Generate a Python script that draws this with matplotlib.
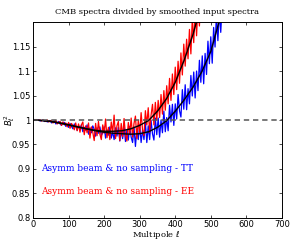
import numpy as np
import matplotlib
matplotlib.use("Agg")
import matplotlib.pyplot as plt

# Noisy measured ratios (multipole step of 4)
tt_ratio = [
    1.000, 1.001, 0.999, 1.000, 1.000, 0.998, 0.999, 1.000, 0.997, 0.999,
    0.996, 0.997, 0.999, 0.994, 0.997, 0.998, 0.992, 0.994, 0.997, 0.992,
    0.989, 0.995, 0.995, 0.987, 0.992, 0.985, 0.993, 0.987, 0.982, 0.992,
    0.988, 0.979, 0.989, 0.981, 0.990, 0.976, 0.985, 0.979, 0.990, 0.971,
    0.984, 0.974, 0.988, 0.981, 0.967, 0.984, 0.973, 0.986, 0.968, 0.974,
    0.986, 0.963, 0.980, 0.969, 0.986, 0.963, 0.976, 0.960, 0.984, 0.967,
    0.985, 0.957, 0.977, 0.962, 0.986, 0.956, 0.979, 0.959, 0.987, 0.965,
    0.954, 0.986, 0.946, 0.982, 0.960, 0.990, 0.954, 0.980, 0.960, 0.995,
    0.954, 0.988, 0.960, 0.999, 0.972, 0.959, 1.004, 0.970, 1.004, 0.965,
    1.000, 0.974, 1.018, 0.976, 1.005, 0.978, 1.030, 0.996, 1.032, 0.989,
    1.033, 1.002, 1.052, 1.019, 1.006, 1.062, 1.022, 1.072, 1.021, 1.064,
    1.033, 1.091, 1.049, 1.098, 1.045, 1.100, 1.060, 1.122, 1.077, 1.131,
    1.074, 1.136, 1.093, 1.161, 1.115, 1.170, 1.116, 1.189, 1.149, 1.217,
    1.162, 1.222, 1.179, 1.236,
]
ee_ratio = [
    1.000, 0.999, 1.001, 1.000, 0.999, 1.000, 0.998, 1.000, 0.999, 0.997,
    1.000, 0.996, 0.998, 0.999, 0.994, 0.996, 0.999, 0.992, 0.995, 0.997,
    0.989, 0.996, 0.990, 0.994, 0.986, 0.995, 0.983, 0.993, 0.989, 0.980,
    0.994, 0.978, 0.992, 0.975, 0.990, 0.996, 0.970, 0.988, 0.974, 0.994,
    0.963, 0.986, 0.975, 0.958, 0.993, 0.968, 0.997, 0.971, 0.960, 0.990,
    0.973, 1.002, 0.964, 0.985, 0.960, 0.996, 0.975, 1.010, 0.962, 0.988,
    0.997, 0.958, 0.993, 0.966, 1.003, 0.970, 0.957, 0.995, 0.972, 1.004,
    0.965, 0.993, 1.008, 0.962, 0.999, 0.974, 1.015, 0.980, 0.968, 1.019,
    0.990, 1.025, 0.975, 1.010, 1.032, 0.990, 1.036, 1.000, 1.040, 1.005,
    1.052, 1.012, 1.060, 1.020, 1.070, 1.033, 1.085, 1.040, 1.094, 1.052,
    1.108, 1.062, 1.120, 1.075, 1.137, 1.092, 1.155, 1.110, 1.165, 1.125,
    1.185, 1.135, 1.207, 1.158, 1.225, 1.172, 1.240, 1.192, 1.260, 1.205,
    1.290, 1.225, 1.300,
]
ell_step = 4
ell_tt = list(range(0, ell_step * len(tt_ratio), ell_step))
ell_ee = list(range(0, ell_step * len(ee_ratio), ell_step))

# Smooth fits (black curves)
ell_tt_fit = [0, 25, 50, 75, 100, 125, 150, 175, 200, 225, 250, 275, 300,
              325, 350, 375, 400, 425, 450, 475, 500, 525, 540]
tt_fit = [1.000, 0.999, 0.997, 0.994, 0.990, 0.986, 0.982, 0.978, 0.975,
          0.973, 0.972, 0.971, 0.972, 0.976, 0.985, 0.998, 1.018, 1.041,
          1.067, 1.099, 1.140, 1.205, 1.250]
ell_ee_fit = [0, 25, 50, 75, 100, 125, 150, 175, 200, 225, 250, 275, 300,
              325, 350, 375, 400, 425, 450, 475]
ee_fit = [1.000, 0.999, 0.997, 0.994, 0.990, 0.986, 0.982, 0.979, 0.977,
          0.977, 0.978, 0.982, 0.989, 0.999, 1.018, 1.043, 1.077, 1.122,
          1.175, 1.240]

xticks = [0, 100, 200, 300, 400, 500, 600, 700]
yticks = [0.8, 0.85, 0.9, 0.95, 1.0, 1.05, 1.1, 1.15]
ytick_labels = ["0.8", "0.85", "0.9", "0.95", "1", "1.05", "1.1", "1.15"]

title = "CMB spectra divided by smoothed input spectra"
label_tt = "Asymm beam & no sampling - TT"
label_ee = "Asymm beam & no sampling - EE"

fig = plt.figure(figsize=(2.9, 2.4), dpi=100)
ax = fig.add_axes([0.114, 0.092, 0.858, 0.816])

ax.plot(ell_tt, tt_ratio, color="#0000ff", lw=0.9)
ax.plot(ell_ee, ee_ratio, color="#ff0000", lw=0.9)
ax.plot(ell_tt_fit, tt_fit, color="black", lw=1.0)
ax.plot(ell_ee_fit, ee_fit, color="black", lw=1.0)
ax.axhline(1.0, color="#555555", lw=1.1, ls=(0, (3.5, 2.5)))

ax.set_xlim(0, 700)
ax.set_ylim(0.8, 1.2)
ax.set_xticks(xticks)
ax.set_yticks(yticks)
ax.set_yticklabels(ytick_labels)
ax.tick_params(direction="in", top=True, right=True, labelsize=6, length=2.5,
               width=0.5, pad=2)
ax.tick_params(axis="x", pad=1.2)
for s in ax.spines.values():
    s.set_linewidth(0.7)

ax.set_title(title, fontsize=6, family="DejaVu Serif", pad=6)
ax.set_xlabel(r"Multipole $\ell$", fontsize=6, family="DejaVu Serif")
ax.xaxis.set_label_coords(0.494, -0.058)
ax.set_ylabel(r"$B_\ell^2$", fontsize=6)
ax.yaxis.set_label_coords(-0.064, 0.5)

ax.text(22, 0.9, label_tt, color="#0000ff", fontsize=6.5,
        family="DejaVu Serif", va="center")
ax.text(22, 0.853, label_ee, color="#ff0000", fontsize=6.5,
        family="DejaVu Serif", va="center")

fig.savefig("out.png", dpi=100)
